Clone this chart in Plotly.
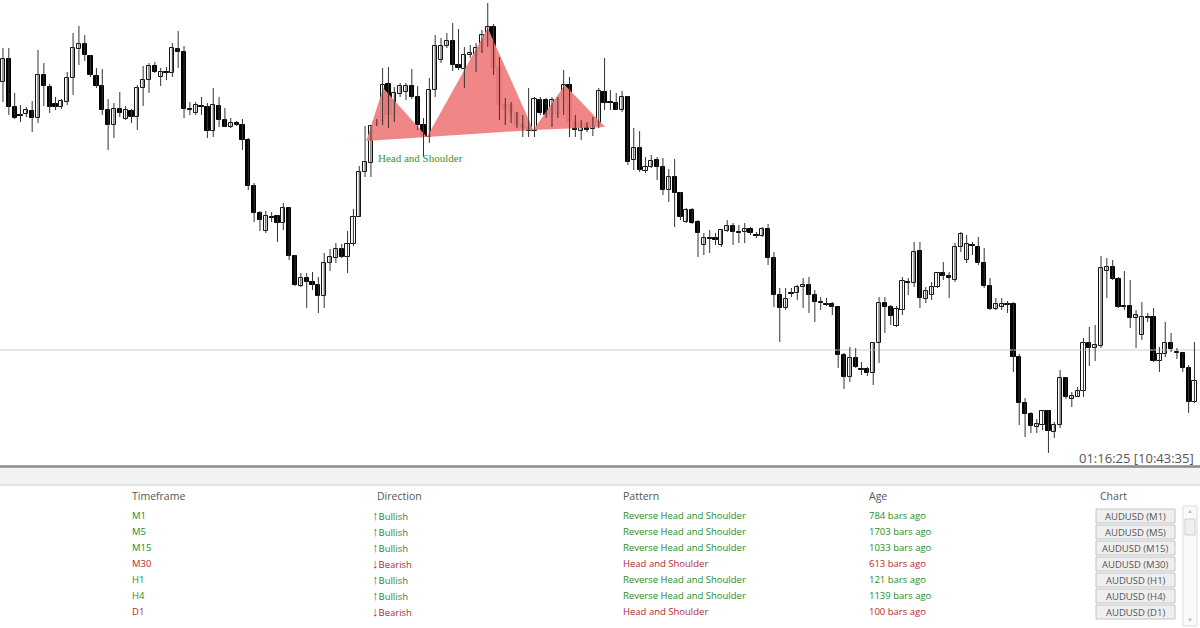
import plotly.graph_objects as go

W, H = 1200, 628

# Prices expressed on a chart scale where larger numbers are lower on screen (axis reversed)
opens = [82,59,107,115,114,111,118,75,87,104,107,102,78,49,44,56,76,86,110,125,109,119,111,117,88,80,66,77,72,73,49,52,109,113,
         106,107,131,106,120,127,123,125,140,186,213,231,217,216,223,208,256,286,278,282,285,296,263,258,249,257,244,217,172,163,125,121,84,116,
         94,92,86,97,125,137,90,60,46,41,65,69,55,56,52,42,27,68,105,105,113,125,127,131,100,100,115,114,102,85,122,131,124,129,123,
         92,102,103,110,97,160,148,171,167,160,167,190,177,193,222,210,222,245,238,238,245,231,226,232,232,229,235,236,229,258,
         295,308,293,293,287,285,295,302,304,304,307,355,377,358,369,369,373,343,303,307,
         326,310,282,283,251,299,295,287,273,276,280,247,260,245,247,263,286,309,307,304,
         304,357,403,414,427,425,411,432,425,378,399,397,391,343,348,346,271,267,279,306,
         306,318,335,317,317,361,354,343,352,353,368,402]
highs = [48,48,93,105,107,101,50,63,84,97,99,72,33,26,35,55,68,69,99,103,92,106,109,85,66,63,62,68,67,43,31,46,102,102,
         97,103,88,97,108,118,121,119,138,183,211,211,212,215,203,207,255,273,273,272,277,253,249,243,244,231,209,166,126,125,119,68,67,87,
         83,83,69,86,118,78,35,38,33,23,29,47,45,43,30,3,24,57,98,102,112,115,88,97,97,98,97,97,70,77,115,120,122,117,88,
         58,90,93,91,96,128,131,157,155,157,158,169,159,192,208,208,220,233,230,233,229,220,223,225,223,227,232,227,224,252,
         288,288,288,285,278,277,290,297,298,302,307,353,347,348,362,367,342,297,297,305,
         306,277,278,242,242,287,282,272,262,272,243,232,235,242,237,248,278,298,298,301,
         302,354,398,412,419,410,410,422,370,377,392,387,338,327,325,256,258,260,277,271,
         280,310,302,313,308,347,322,333,348,352,365,342]
lows = [102,115,119,122,117,132,123,106,113,110,109,105,95,65,61,77,88,115,150,138,117,120,123,130,106,93,73,86,80,77,68,118,115,115,
        115,138,137,127,127,128,126,150,190,222,231,233,222,242,230,260,286,287,308,290,313,308,271,263,258,273,246,217,177,177,126,125,128,122,
        97,100,99,130,157,143,97,63,48,71,70,88,58,72,53,47,75,120,125,123,128,137,137,137,115,118,127,118,115,137,137,140,132,136,128,
        110,110,110,112,165,170,172,173,168,180,195,202,227,220,223,224,257,255,253,245,247,232,245,243,243,235,238,237,265,307,
        342,310,297,300,308,313,322,310,306,315,368,389,382,368,375,376,385,363,333,325,
        327,315,295,287,308,303,300,288,280,298,282,252,263,255,265,288,310,310,310,313,
        372,425,437,433,433,430,453,438,428,399,407,397,397,366,361,348,298,280,308,310,
        328,348,340,322,362,372,357,352,359,372,413,403]
closes = [59,107,118,115.5,110,118,75,86,107,107,101,78,48,44,55,75,86,110,125,109,113,110,117,88,80,66,72,72,73,48,52,109,109.5,105,
          106.5,131,105,120,127,123,125,140,186,213,220,216,217.5,223,208,256,285,278,282,285,296,263,257,249,257,244,217,172,162,126,121,85,115,93,
          86,86,97,125,137,90,46,46,41,65,68,55,53,48,35,27,68,105,110,113,126,128,131,99,113,115,100,100,85,122,130,124,130,122,91,
          103,102.5,110,97,162,148,170,167,161,167,190,177,193,217,210,223,233,238,238.5,240,230,226,232,232.5,229,233,235.5,229,258,295,
          308,299,293.5,287,285,295,302,302.5,304.5,307,355,377,358,367,369.5,373,343,303,307,316,
          309,281,282.5,252,298,291,287,273,276,278,247,234,244,245.5,263,286,309,304,304,304.5,
          357,403,414,426,424,411,431,425,378,397,396,391,343,348,345,268,267,279,307,306.5,
          318,315,317,317.5,361,354,343,349,352.5,368,402,381]
n = len(opens)
assert len(highs) == n and len(lows) == n and len(closes) == n
bars = list(range(n))

# Head and shoulder pattern vertices (bar index, price)
pat_x = [62.2, 65.1, 72.6, 83.0, 90.8, 96.2, 103.1]
pat_y = [141, 88, 137, 28, 130, 85, 127]
hline_level = 350

timeframes = ["M1", "M5", "M15", "M30", "H1", "H4", "D1"]
directions = ["Bullish", "Bullish", "Bullish", "Bearish", "Bullish", "Bullish", "Bearish"]
patterns = ["Reverse Head and Shoulder"]*3 + ["Head and Shoulder"] + ["Reverse Head and Shoulder"]*2 + ["Head and Shoulder"]
ages = ["784 bars ago", "1703 bars ago", "1033 bars ago", "613 bars ago", "121 bars ago", "1139 bars ago", "100 bars ago"]
symbol = "AUDUSD"

fig = go.Figure()
for a, b, c in [(0, 1, 2), (2, 3, 4), (4, 5, 6)]:
    fig.add_trace(go.Scatter(x=[pat_x[a], pat_x[b], pat_x[c], pat_x[a]],
                             y=[pat_y[a], pat_y[b], pat_y[c], pat_y[a]],
                             fill="toself", fillcolor="rgba(240,128,128,0.95)",
                             line=dict(width=0), mode="lines", hoverinfo="skip", showlegend=False))
fig.add_trace(go.Scatter(x=[-1, n + 1], y=[hline_level, hline_level], mode="lines",
                         line=dict(color="#cfcfcf", width=1), showlegend=False, hoverinfo="skip"))

# wicks
wx, wy = [], []
for i in bars:
    wx += [i, i, None]
    wy += [highs[i], lows[i], None]
fig.add_trace(go.Scatter(x=wx, y=wy, mode="lines", line=dict(color="#333333", width=1), showlegend=False, hoverinfo="skip"))

# bodies: visually rising candles white, falling black
up = [i for i in bars if closes[i] <= opens[i]]
dn = [i for i in bars if closes[i] > opens[i]]
def body(idx):
    base = [min(opens[i], closes[i]) for i in idx]
    hgt = [max(abs(closes[i] - opens[i]), 0.8) for i in idx]
    return base, hgt
b_up, h_up = body(up)
b_dn, h_dn = body(dn)
fig.add_trace(go.Bar(x=up, y=h_up, base=b_up, width=0.72, marker=dict(color="white", line=dict(color="#111111", width=1)),
                     showlegend=False, hoverinfo="skip"))
fig.add_trace(go.Bar(x=dn, y=h_dn, base=b_dn, width=0.72, marker=dict(color="black", line=dict(color="black", width=1)),
                     showlegend=False, hoverinfo="skip"))

fig.add_annotation(x=pat_x[0] + 1.7, y=158, text="Head and Shoulder", showarrow=False, xanchor="left",
                   font=dict(family="Liberation Serif", size=11, color="#2f9a2f"))

def px(x): return x / W
def py(y): return 1 - y / H

shapes = [
    dict(type="line", xref="paper", yref="paper", x0=0, x1=1, y0=py(466.5), y1=py(466.5), line=dict(color="#8a8a8a", width=2.5)),
    dict(type="rect", xref="paper", yref="paper", x0=0, x1=1, y0=py(485), y1=py(468), fillcolor="#f2f2f2", line=dict(width=0)),
    dict(type="line", xref="paper", yref="paper", x0=0, x1=1, y0=py(485), y1=py(485), line=dict(color="#cccccc", width=1)),
    dict(type="rect", xref="paper", yref="paper", x0=px(1183), x1=px(1197), y0=py(626), y1=py(506), fillcolor="#fafafa", line=dict(color="#dddddd", width=1)),
    dict(type="rect", xref="paper", yref="paper", x0=px(1185), x1=px(1195), y0=py(535), y1=py(519), fillcolor="#f0f0f0", line=dict(color="#cfcfcf", width=1)),
]
ann = []
ann.append(dict(x=px(1196), y=py(458), text="01:16:25 [10:43:35]", xanchor="right", font=dict(family="Open Sans", size=13, color="#555555")))
for t, x in [("Timeframe", 130), ("Direction", 375), ("Pattern", 621), ("Age", 867), ("Chart", 1098)]:
    ann.append(dict(x=px(x), y=py(496), text=t, xanchor="left", font=dict(family="Open Sans", size=10.5, color="#555555")))
green, red = "#2a8a2a", "#b02a2a"
for i in range(len(timeframes)):
    yy = py(515 + 16 * i)
    bull = directions[i] == "Bullish"
    col = green if bull else red
    ann.append(dict(x=px(130), y=yy, text=timeframes[i], xanchor="left", font=dict(family="Open Sans", size=9.5, color=col)))
    arrow = "<b>↑</b>" if bull else "<b>↓</b>"
    ann.append(dict(x=px(370), y=yy, text=f"<span style='color:{'#138a13' if bull else '#e01010'};font-size:13px'>{arrow}</span>{directions[i]}",
                    xanchor="left", font=dict(family="Open Sans", size=9.5, color=col)))
    ann.append(dict(x=px(621), y=yy, text=patterns[i], xanchor="left", font=dict(family="Open Sans", size=9.5, color=col)))
    ann.append(dict(x=px(867), y=yy, text=ages[i], xanchor="left", font=dict(family="Open Sans", size=9.5, color=col)))
    yc = 516 + 16 * i
    shapes.append(dict(type="rect", xref="paper", yref="paper", x0=px(1096), x1=px(1175), y0=py(yc + 7), y1=py(yc - 7),
                       fillcolor="#efefef", line=dict(color="#c4c4c4", width=1)))
    ann.append(dict(x=px(1135.5), y=py(yc), text=f"{symbol} ({timeframes[i]})", xanchor="center",
                    font=dict(family="Open Sans", size=9.5, color="#555555")))
ann.append(dict(x=px(1190), y=py(511), text="▲", xanchor="center", font=dict(size=6, color="#bbbbbb")))
ann.append(dict(x=px(1190), y=py(620), text="▼", xanchor="center", font=dict(size=6, color="#bbbbbb")))
for a in ann:
    a.update(xref="paper", yref="paper", showarrow=False, yanchor="middle")
    fig.add_annotation(**a)

fig.update_layout(width=W, height=H, margin=dict(l=0, r=0, t=0, b=0),
                  paper_bgcolor="white", plot_bgcolor="white", shapes=shapes, bargap=0,
                  xaxis=dict(range=[-0.51, 204.95], visible=False, fixedrange=True),
                  yaxis=dict(range=[465, 0], visible=False, domain=[1 - 465 / H, 1], fixedrange=True),
                  hovermode=False)
fig.write_html("out.html", config={"displayModeBar": False},
               post_script="document.body.style.margin='0';document.body.style.overflow='hidden';")
